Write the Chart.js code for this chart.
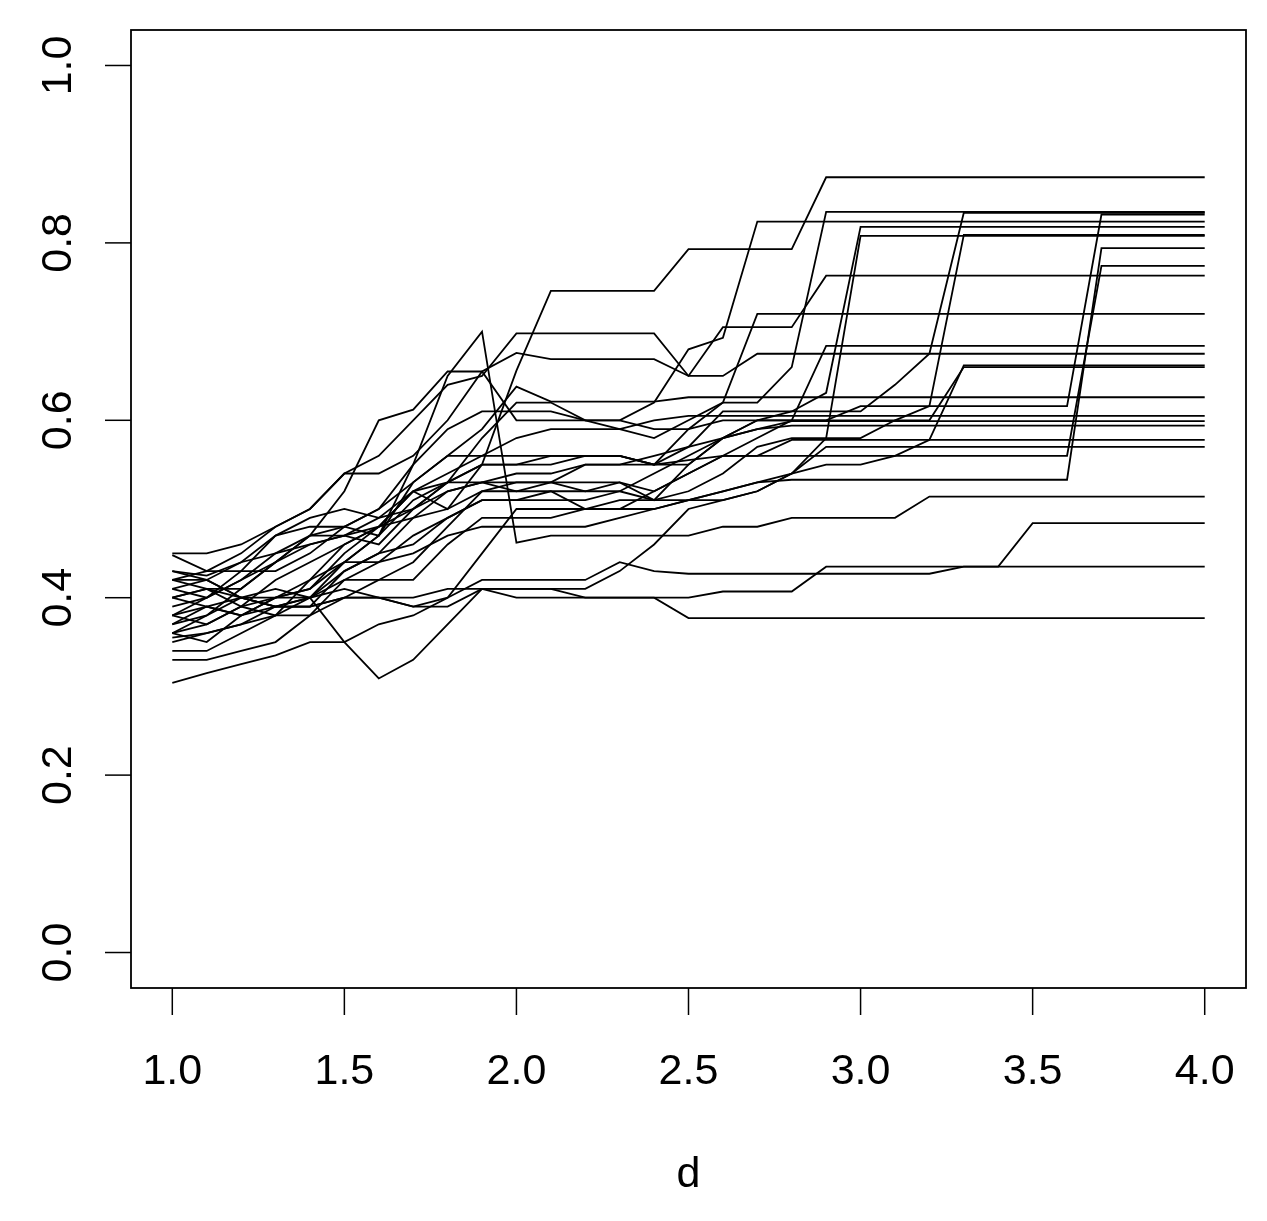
<!DOCTYPE html>
<html>
<head>
<meta charset="utf-8">
<script src="https://cdn.jsdelivr.net/npm/chart.js@4.4.1/dist/chart.umd.min.js"></script>
<style>
html,body{margin:0;padding:0;background:#fff}
#grafico{display:block}
</style>
</head>
<body>
<canvas id="grafico" width="1267" height="1221"></canvas>
<script>

/* =========================
DATOS
========================= */

const dValues = [1.0,1.1,1.2,1.3,1.4,1.5,1.6,1.7,1.8,1.9,2.0,2.1,2.2,2.3,2.4,2.5,2.6,2.7,2.8,2.9,3.0,3.1,3.2,3.3,3.4,3.5,3.6,3.7,3.8,3.9,4.0]

const xTicks = [1.0,1.5,2.0,2.5,3.0,3.5,4.0]
const yTicks = [0.0,0.2,0.4,0.6,0.8,1.0]
const xTitle = "d"

const s01 = [.430,.425,.440,.470,.490,.500,.490,.520,.500,.550,.656,.746,.746,.746,.746,.793,.793,.793,.793,.874,.874,.874,.874,.874,.874,.874,.874,.874,.874,.874,.874]
const s02 = [.410,.400,.420,.450,.470,.480,.470,.530,.560,.560,.560,.560,.560,.560,.550,.590,.620,.620,.660,.835,.835,.835,.835,.835,.835,.835,.835,.835,.835,.835,.835]
const s03 = [.380,.400,.420,.440,.460,.470,.460,.500,.530,.580,.620,.620,.600,.600,.620,.680,.693,.824,.824,.824,.824,.824,.824,.824,.824,.824,.824,.824,.824,.824,.824]
const s04 = [.420,.410,.390,.400,.410,.440,.470,.510,.530,.550,.550,.560,.560,.560,.550,.570,.610,.610,.610,.610,.610,.640,.675,.834,.834,.834,.834,.834,.834,.834,.834]
const s05 = [.360,.370,.390,.420,.440,.460,.480,.500,.520,.530,.530,.530,.520,.520,.510,.550,.580,.600,.610,.631,.818,.818,.818,.818,.818,.818,.818,.818,.818,.818,.818]
const s06 = [.400,.390,.380,.390,.400,.430,.450,.490,.520,.530,.520,.520,.500,.500,.500,.510,.510,.520,.540,.580,.808,.808,.808,.808,.808,.808,.808,.808,.808,.808,.808]
const s07 = [.350,.360,.370,.380,.380,.420,.440,.470,.490,.510,.510,.520,.520,.530,.510,.520,.540,.570,.580,.580,.580,.600,.616,.809,.809,.809,.809,.809,.809,.809,.809]
const s08 = [.448,.430,.430,.470,.480,.480,.500,.550,.590,.610,.610,.610,.600,.600,.590,.590,.600,.600,.600,.600,.616,.616,.616,.616,.616,.616,.616,.832,.832,.832,.832]
const s09 = [.304,.315,.325,.335,.350,.350,.370,.380,.400,.450,.500,.500,.500,.510,.510,.510,.520,.530,.533,.533,.533,.533,.533,.533,.533,.533,.533,.794,.794,.794,.794]
const s10 = [.370,.390,.380,.400,.400,.420,.420,.440,.480,.520,.530,.530,.550,.550,.550,.555,.560,.560,.560,.560,.560,.560,.560,.560,.560,.560,.560,.774,.774,.774,.774]
const s11 = [.420,.430,.450,.480,.500,.540,.540,.560,.600,.655,.676,.669,.669,.669,.669,.650,.705,.705,.705,.763,.763,.763,.763,.763,.763,.763,.763,.763,.763,.763,.763]
const s12 = [.400,.410,.410,.440,.470,.520,.600,.612,.655,.655,.600,.600,.600,.590,.580,.600,.620,.720,.720,.720,.720,.720,.720,.720,.720,.720,.720,.720,.720,.720,.720]
const s13 = [.360,.380,.400,.400,.410,.450,.480,.490,.500,.520,.520,.530,.530,.530,.520,.540,.560,.580,.600,.684,.684,.684,.684,.684,.684,.684,.684,.684,.684,.684,.684]
const s14 = [.450,.450,.460,.480,.500,.540,.560,.600,.640,.650,.698,.698,.698,.698,.698,.650,.650,.675,.675,.675,.675,.675,.675,.675,.675,.675,.675,.675,.675,.675,.675]
const s15 = [.330,.330,.340,.350,.380,.400,.420,.420,.460,.490,.490,.490,.500,.500,.520,.540,.560,.560,.578,.578,.578,.578,.578,.662,.662,.662,.662,.662,.662,.662,.662]
const s16 = [.420,.420,.440,.450,.460,.470,.480,.520,.530,.550,.550,.550,.560,.560,.550,.550,.580,.600,.600,.600,.600,.600,.600,.660,.660,.660,.660,.660,.660,.660,.660]
const s17 = [.390,.400,.430,.430,.450,.480,.500,.530,.560,.590,.638,.621,.621,.621,.621,.626,.626,.626,.626,.626,.626,.626,.626,.626,.626,.626,.626,.626,.626,.626,.626]
const s18 = [.380,.370,.390,.380,.420,.460,.480,.520,.540,.560,.580,.590,.590,.590,.600,.605,.605,.605,.605,.605,.605,.605,.605,.605,.605,.605,.605,.605,.605,.605,.605]
const s19 = [.410,.420,.400,.390,.390,.430,.450,.460,.490,.510,.510,.510,.510,.520,.540,.560,.580,.590,.594,.594,.594,.594,.594,.594,.594,.594,.594,.594,.594,.594,.594]
const s20 = [.360,.350,.380,.400,.420,.440,.440,.450,.470,.480,.480,.480,.480,.490,.500,.510,.520,.530,.540,.550,.550,.560,.578,.578,.578,.578,.578,.578,.578,.578,.578]
const s21 = [.340,.340,.360,.380,.400,.350,.309,.330,.370,.410,.410,.410,.410,.430,.460,.500,.510,.520,.540,.570,.570,.570,.570,.570,.570,.570,.570,.570,.570,.570,.570]
const s22 = [.355,.360,.370,.390,.400,.440,.470,.550,.650,.700,.462,.470,.470,.470,.470,.470,.480,.480,.490,.490,.490,.490,.514,.514,.514,.514,.514,.514,.514,.514,.514]
const s23 = [.380,.390,.400,.410,.400,.410,.400,.390,.390,.410,.410,.410,.400,.400,.400,.400,.407,.407,.407,.435,.435,.435,.435,.435,.435,.484,.484,.484,.484,.484,.484]
const s24 = [.430,.420,.400,.390,.390,.400,.400,.390,.400,.420,.420,.420,.420,.440,.430,.427,.427,.427,.427,.427,.427,.427,.427,.435,.435,.435,.435,.435,.435,.435,.435]
const s25 = [.400,.410,.400,.390,.390,.400,.400,.400,.410,.410,.400,.400,.400,.400,.400,.377,.377,.377,.377,.377,.377,.377,.377,.377,.377,.377,.377,.377,.377,.377,.377]
const s26 = [.370,.380,.410,.440,.470,.470,.490,.500,.530,.530,.540,.540,.550,.550,.560,.570,.580,.590,.599,.599,.599,.599,.599,.599,.599,.599,.599,.599,.599,.599,.599]

const series = [s01,s02,s03,s04,s05,s06,s07,s08,s09,s10,s11,s12,s13,s14,s15,s16,s17,s18,s19,s20,s21,s22,s23,s24,s25,s26]


/* =========================
EJES ESTILO R
========================= */

const fuente = '43px "Liberation Sans", Arial, sans-serif'

const ejesR = {
id:"ejesR",
afterDraw(chart){

let ctx = chart.ctx
let a = chart.chartArea
let sx = chart.scales.x
let sy = chart.scales.y

ctx.save()
ctx.strokeStyle = "#000"
ctx.fillStyle = "#000"
ctx.lineWidth = 1.8

// caja
ctx.strokeRect(a.left, a.top, a.right - a.left, a.bottom - a.top)

ctx.font = fuente
ctx.lineWidth = 1.5

// eje x
ctx.textAlign = "center"
ctx.textBaseline = "alphabetic"
xTicks.forEach(function(v){
let px = sx.getPixelForValue(v)
ctx.beginPath()
ctx.moveTo(px, a.bottom)
ctx.lineTo(px, a.bottom + 27)
ctx.stroke()
ctx.fillText(v.toFixed(1), px, 1084)
})

// eje y
yTicks.forEach(function(v){
let py = sy.getPixelForValue(v)
ctx.beginPath()
ctx.moveTo(a.left, py)
ctx.lineTo(a.left - 26, py)
ctx.stroke()
ctx.save()
ctx.translate(71, py)
ctx.rotate(-Math.PI/2)
ctx.fillText(v.toFixed(1), 0, 0)
ctx.restore()
})

// titulo
ctx.fillText(xTitle, (sx.getPixelForValue(1.0) + sx.getPixelForValue(4.0)) / 2, 1187)

ctx.restore()

}
}


let chartSim = new Chart(document.getElementById("grafico"),{

type:"line",

data:{
datasets: series.map(function(s){
return {
data: s.map((v,i) => ({x:dValues[i], y:v})),
borderColor:"#000",
borderWidth:1.8,
pointRadius:0,
tension:0,
fill:false
}
})
},

options:{
responsive:false,
animation:false,
devicePixelRatio:1,
layout:{padding:{left:131, top:30, right:21, bottom:233}},
plugins:{
legend:{display:false},
tooltip:{enabled:false}
},
scales:{
x:{type:"linear", display:false, min:0.88, max:4.12},
y:{type:"linear", display:false, min:-0.04, max:1.04}
}
},

plugins:[ejesR]

})

</script>
</body>
</html>
